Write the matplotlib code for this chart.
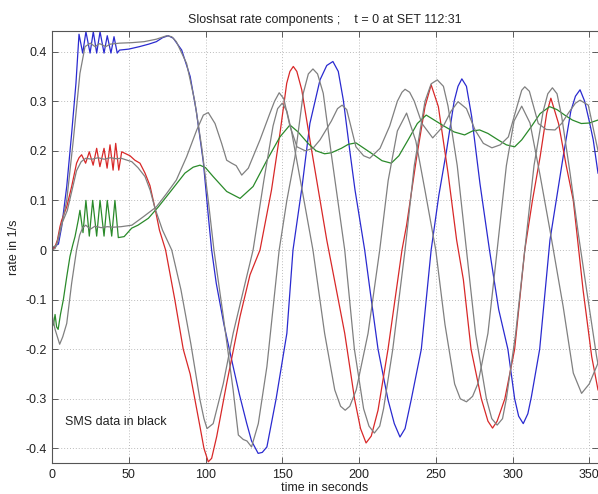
import matplotlib
matplotlib.use("Agg")
import matplotlib.pyplot as plt
from matplotlib.ticker import FuncFormatter

plt.rcParams['font.family'] = ['Liberation Sans', 'DejaVu Sans']
plt.rcParams['axes.unicode_minus'] = False

# ---------------- data ----------------
blue_t = [0, 2, 3, 4.2, 6.3, 9.6, 12.8, 15.6, 17.6, 20, 22.1, 24.8, 26.9, 29.1, 31.3, 33.9, 36.0, 38.4, 40.4, 42.5,
          44, 50, 57, 63, 68, 72, 75.7, 79, 84.5, 90, 94, 98.6, 102, 104, 107, 112, 118, 122, 126.8, 130, 134.3, 137,
          140, 146, 153, 157, 163, 168, 174.6, 179, 183, 186.5, 189.8, 194, 197.4, 203.7, 208, 212.4, 218.9, 223,
          226.7, 230, 234, 240.6, 247, 252, 257, 262, 264.5, 267, 270, 273.4, 278.8, 285, 291, 297, 301.4, 304, 307,
          310, 312.3, 317.7, 324.4, 329, 333, 338, 341, 344, 347, 350, 352.6, 355.7]
blue_v = [0.005, 0.005, 0.01, 0.012, 0.047, 0.128, 0.235, 0.336, 0.435, 0.397, 0.44, 0.397, 0.44, 0.397, 0.44, 0.397,
          0.432, 0.397, 0.43, 0.397,
          0.403, 0.405, 0.41, 0.415, 0.42, 0.428, 0.432, 0.427, 0.403, 0.35, 0.28, 0.177, 0.063, 0.0, -0.067, -0.15,
          -0.235, -0.29, -0.349, -0.385, -0.41, -0.408,
          -0.397, -0.3, -0.168, 0.0, 0.13, 0.255, 0.343, 0.372, 0.38, 0.36, 0.302, 0.2, 0.121, 0.0, -0.1, -0.2, -0.302,
          -0.35,
          -0.377, -0.36, -0.302, -0.2, 0.0, 0.11, 0.2, 0.3, 0.33, 0.345, 0.33, 0.269, 0.134, 0.0, -0.12, -0.2, -0.3,
          -0.335, -0.35,
          -0.33, -0.296, -0.2, 0.02, 0.11, 0.188, 0.28, 0.31, 0.323, 0.3, 0.26, 0.222, 0.155]

red_t = [0, 2, 3.5, 5.2, 6.3, 9.6, 12.8, 16, 17.6, 19.3, 21.9, 24.3, 26.8, 29.1, 31.2, 33.9, 35.9, 37.8, 39.8, 41.5,
         43.5, 45.4, 50.8, 54, 57.3, 60.6, 63.8, 67.1, 70, 74, 80, 85.5, 90, 96.4, 99, 101.8, 104, 107.3, 113.8,
         122.5, 129, 135.5, 143, 148.5, 152.9, 155, 157.2, 159.5, 162.7, 168, 173.5, 179, 184, 190.7, 197.2, 201,
         204.6, 208, 212.4, 218.9, 228, 231, 237.6, 243, 247, 251.7, 258, 263.6, 268, 273, 279.7, 284, 287, 290, 295,
         301.4, 308, 313, 318, 322.3, 325, 330, 335, 339.6, 346, 351.6, 355.7]
red_v = [0.0, 0.007, 0.02, 0.047, 0.06, 0.087, 0.128, 0.175, 0.186, 0.192, 0.175, 0.198, 0.171, 0.205, 0.168, 0.205,
         0.165, 0.212, 0.161, 0.215,
         0.161, 0.198, 0.19, 0.181, 0.175, 0.155, 0.13, 0.084, 0.04, 0.0, -0.1, -0.2, -0.25, -0.356, -0.4, -0.427,
         -0.42, -0.376, -0.269,
         -0.134, -0.05, 0.0, 0.121, 0.235, 0.336, 0.36, 0.37, 0.36, 0.323, 0.222, 0.121, 0.02, -0.06, -0.168, -0.302,
         -0.36,
         -0.389, -0.375, -0.323, -0.2, 0.0, 0.05, 0.188, 0.289, 0.333, 0.289, 0.155, 0.02, -0.06, -0.2, -0.3, -0.345,
         -0.359, -0.345, -0.3,
         -0.2, 0.0, 0.1, 0.188, 0.276, 0.306, 0.255, 0.17, 0.1, -0.081, -0.215, -0.282]

green_t = [0, 1, 2, 3, 4, 5.5, 7.4, 9.6, 11.7, 13.5, 15, 17.1, 18.2, 20.2, 22.1, 24.3, 26.5, 29.1, 31.3, 33.9, 36,
           38.9, 41, 43.2, 47, 51.9, 56, 62.8, 69.3, 78, 86.6, 92, 96.4, 100, 105, 113.8, 122.5, 131, 140, 148.5,
           155, 160.3, 166.8, 172, 177.6, 182, 188.5, 193, 198, 210, 215, 221, 226, 232, 238, 243.8, 249, 255.8, 262,
           268.8, 274, 278.6, 284, 290.6, 296, 301.4, 306, 312.3, 318, 324.2, 329, 334, 339, 344.8, 350, 355.7]
green_v = [-0.155, -0.15, -0.13, -0.155, -0.16, -0.13, -0.1, -0.054, -0.013, 0.01, 0.027, 0.06, 0.08, 0.035, 0.1,
           0.028, 0.1, 0.028, 0.1, 0.028, 0.1,
           0.028, 0.1, 0.025, 0.027, 0.044, 0.05, 0.064, 0.087, 0.121, 0.155, 0.167, 0.171, 0.166, 0.148, 0.118,
           0.104, 0.128, 0.181, 0.228,
           0.252, 0.238, 0.215, 0.2, 0.194, 0.196, 0.205, 0.213, 0.216, 0.191, 0.18, 0.175, 0.19, 0.222, 0.255, 0.272,
           0.262, 0.249, 0.238,
           0.232, 0.24, 0.242, 0.235, 0.222, 0.212, 0.208, 0.222, 0.249, 0.275, 0.289, 0.283, 0.272, 0.262, 0.255,
           0.256, 0.262]

# SMS data (grey)
sms1_t = [0, 3, 6, 10, 13, 16, 19, 22, 26, 30, 34, 38, 42, 45, 52, 56, 60.6, 64, 67.1, 72, 78, 84, 90.5, 96.4, 99,
          101, 105, 111.6, 118, 126.8, 131, 138, 144, 147, 150, 153, 156, 163, 170, 177.6, 184.2, 188, 191, 194,
          198.2, 205.9, 213.5, 219, 225, 231, 237, 243, 250, 256, 262.3, 266, 270, 274, 277.5, 284, 290, 296, 301,
          306, 311.4, 318, 324.4, 333, 339.6, 345, 350, 355.7]
sms1_v = [0.005, 0.01, 0.05, 0.08, 0.12, 0.16, 0.178, 0.185, 0.183, 0.186, 0.183, 0.186, 0.184, 0.185, 0.178, 0.166,
          0.148, 0.12, 0.084, 0.04, 0.0, -0.08, -0.19, -0.302, -0.34,
          -0.36, -0.35, -0.269, -0.168, -0.054, 0.0, 0.14, 0.25, 0.285, 0.296, 0.28, 0.24, 0.12, 0.0, -0.168, -0.282,
          -0.315, -0.323, -0.315,
          -0.282, -0.168, 0.0, 0.14, 0.24, 0.276, 0.22, 0.12, 0.0, -0.15, -0.27, -0.3, -0.306, -0.295, -0.269,
          -0.168, 0.0, 0.17, 0.26,
          0.29, 0.256, 0.15, 0.04, -0.114, -0.248, -0.289, -0.27, -0.228]

sms2_t = [0, 2, 4, 6.3, 9.6, 13.9, 18.2, 21.5, 25, 28, 31, 35, 38, 44, 52, 60, 68, 74.7, 78, 81, 87.7, 93, 97.5,
          101.8, 105.5, 111.6, 118, 121.4, 124.6, 127, 130, 134.4, 140, 148, 153, 158.3, 163.7, 167, 170, 173, 176.7,
          182.2, 190.7, 197, 203, 206.5, 210, 213.5, 216, 222, 230, 236, 243, 247, 251, 255, 258, 264, 270, 276, 283,
          286.5, 290, 293.5, 296, 302, 308, 314, 320, 323, 326, 329, 332, 337.5, 343, 348.3, 354.8, 355.7]
sms2_v = [0.0, 0.003, 0.02, 0.05, 0.1, 0.222, 0.356, 0.41, 0.417, 0.41, 0.416, 0.41, 0.415, 0.417, 0.418, 0.42, 0.425,
          0.432, 0.43, 0.42, 0.376, 0.3, 0.208,
          0.1, 0.0, -0.134, -0.282, -0.373, -0.382, -0.385, -0.397, -0.35, -0.235, 0.0, 0.1, 0.188, 0.316, 0.355,
          0.365, 0.355, 0.316,
          0.188, 0.0, -0.2, -0.32, -0.355, -0.369, -0.355, -0.32, -0.2, 0.0, 0.17, 0.3, 0.335, 0.343, 0.33, 0.29,
          0.17, 0.0, -0.17, -0.3,
          -0.34, -0.353, -0.34, -0.3, -0.17, 0.0, 0.17, 0.28, 0.315, 0.327, 0.315, 0.27, 0.155, 0.03, -0.081, -0.215,
          -0.23]

sms3_t = [0, 2, 5, 7, 9.6, 12.8, 16, 18, 20, 22, 25, 28, 32, 36, 40, 45, 52, 59.5, 68, 74.7, 81, 87.7, 94.3, 98.6,
          101.8, 106.2, 110.5, 113.8, 117, 120, 123.6, 127.9, 135.5, 142, 145, 148, 151, 155, 159.6, 165, 170, 174.6,
          182, 186, 189, 192, 198, 203, 207, 213.7, 220, 225, 228, 230, 233, 236, 241, 248, 255, 260, 264.5, 270,
          275.6, 281, 286.6, 292, 297.3, 303, 306, 308, 311, 316.8, 322, 327.7, 332, 336.4, 341, 344, 349.4, 355.7]
sms3_v = [-0.13, -0.16, -0.19, -0.175, -0.148, -0.067, 0.0, 0.03, 0.045, 0.05, 0.042, 0.048, 0.045, 0.047, 0.046,
          0.047, 0.05, 0.067, 0.087, 0.114, 0.141, 0.188, 0.242, 0.272,
          0.277, 0.255, 0.215, 0.181, 0.175, 0.17, 0.151, 0.165, 0.222, 0.276, 0.3, 0.317, 0.305, 0.25, 0.208, 0.2,
          0.205, 0.222,
          0.26, 0.285, 0.292, 0.283, 0.208, 0.19, 0.185, 0.205, 0.25, 0.3, 0.318, 0.324, 0.318, 0.3, 0.255, 0.226,
          0.25, 0.28, 0.299, 0.285,
          0.242, 0.215, 0.206, 0.212, 0.228, 0.29, 0.322, 0.329, 0.32, 0.255, 0.243, 0.242, 0.255, 0.276, 0.296,
          0.302, 0.292, 0.2]

x_ticks = [0, 50, 100, 150, 200, 250, 300, 350]
y_ticks = [-0.4, -0.3, -0.2, -0.1, 0, 0.1, 0.2, 0.3, 0.4]

title_text = "Sloshsat rate components ;    t = 0 at SET 112:31"
xlabel_text = "time in seconds"
ylabel_text = "rate in 1/s"
note_text = "SMS data in black"

# ---------------- figure ----------------
fig = plt.figure(figsize=(5.98, 4.94), dpi=100)
ax = fig.add_axes([52 / 598, 1 - 463 / 494, 546 / 598, (463 - 31) / 494])

ax.plot(blue_t, blue_v, color='#2a2ad0', lw=0.9)
ax.plot(red_t, red_v, color='#d82828', lw=0.9)
ax.plot(green_t, green_v, color='#2a8a2a', lw=0.9)
grey = '#808080'
ax.plot(sms1_t, sms1_v, color=grey, lw=0.9)
ax.plot(sms2_t, sms2_v, color=grey, lw=0.9)
ax.plot(sms3_t, sms3_v, color=grey, lw=0.9)

ax.set_xlim(0, 355.7)
ax.set_ylim(-0.4294, 0.4415)
ax.set_xticks(x_ticks)
ax.set_yticks(y_ticks)
ax.yaxis.set_major_formatter(FuncFormatter(lambda v, p: ('%g' % round(v, 2))))
ax.grid(True, color='#bcbcbc', linestyle=(0, (1, 2)), linewidth=0.7)
ax.tick_params(direction='in', length=4, width=0.6, labelsize=9, top=True, right=True,
               color='#444444', labelcolor='#222222', pad=4)
for s in ['left', 'bottom', 'top']:
    ax.spines[s].set_linewidth(0.8)
    ax.spines[s].set_color('#555555')
ax.spines['right'].set_visible(False)

ax.set_title(title_text, fontsize=9, pad=6, color='#222222')
ax.set_xlabel(xlabel_text, fontsize=9, labelpad=1, color='#222222')
ax.set_ylabel(ylabel_text, fontsize=9, labelpad=4, color='#222222')
ax.text(8.5, -0.346, note_text, fontsize=9, va='center', ha='left', color='#222222')

fig.savefig('out.png', dpi=100)
